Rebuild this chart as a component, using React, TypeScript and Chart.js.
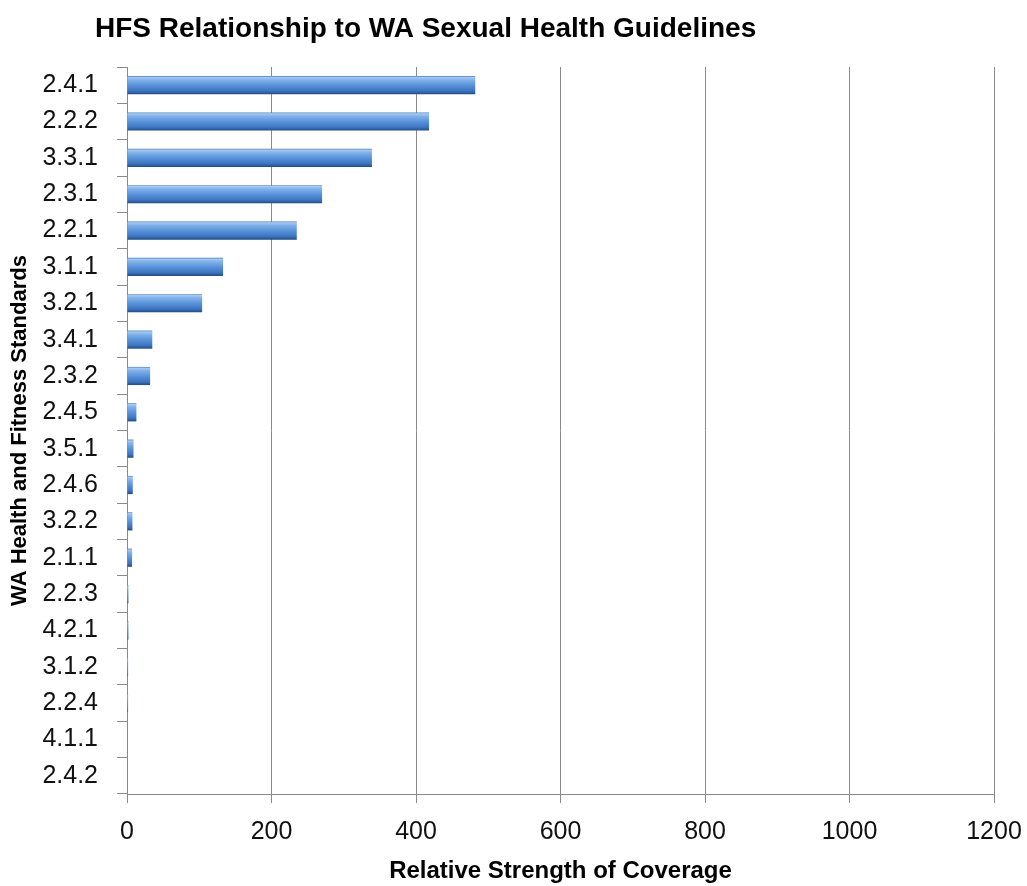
import React, { useEffect, useRef } from "react";
import { Chart, registerables } from "chart.js";

Chart.register(...registerables);

const TITLE = "HFS Relationship to WA Sexual Health Guidelines";
const X_TITLE = "Relative Strength of Coverage";
const Y_TITLE = "WA Health and Fitness Standards";

const categories = [
  "2.4.1", "2.2.2", "3.3.1", "2.3.1", "2.2.1", "3.1.1", "3.2.1", "3.4.1", "2.3.2", "2.4.5",
  "3.5.1", "2.4.6", "3.2.2", "2.1.1", "2.2.3", "4.2.1", "3.1.2", "2.2.4", "4.1.1", "2.4.2",
];
const coverage = [
  482, 418, 339, 270, 235, 133, 104, 35, 32, 13,
  9, 8, 7.5, 7, 2, 2, 1.5, 1.5, 0, 0,
];
const xMin = 0;
const xMax = 1200;
const xStep = 200;

const FONT = "'Liberation Sans', Arial, sans-serif";
const GRID = "#8a8a8a";

const titlePlugin = {
  id: "leftTitle",
  afterDraw(chart: any) {
    const ctx = chart.ctx;
    ctx.save();
    ctx.font = `bold 28px ${FONT}`;
    ctx.fillStyle = "#000";
    ctx.textAlign = "left";
    ctx.textBaseline = "alphabetic";
    ctx.fillText(TITLE, 95, 37);
    ctx.restore();
  },
};

function barFill(c: any) {
  const chart = c.chart;
  const ys = chart.scales && chart.scales.y;
  if (c.type !== "data" || !ys || !chart.chartArea) return "#4f88d0";
  const yc = ys.getPixelForValue(c.dataIndex);
  const half = (ys.height / categories.length) * 0.25;
  const g = chart.ctx.createLinearGradient(0, yc - half, 0, yc + half);
  g.addColorStop(0, "#4a7cbc");
  g.addColorStop(0.07, "#a6c9f2");
  g.addColorStop(0.22, "#7fb0ea");
  g.addColorStop(0.5, "#5a93db");
  g.addColorStop(0.82, "#3c74bf");
  g.addColorStop(0.93, "#2c5c9c");
  g.addColorStop(1, "#23497c");
  return g;
}

export default function App() {
  const ref = useRef<HTMLCanvasElement | null>(null);
  useEffect(() => {
    if (!ref.current) return;
    document.body.style.margin = "0";
    Chart.defaults.font.family = FONT;
    const chart = new Chart(ref.current, {
      type: "bar",
      data: {
        labels: categories,
        datasets: [
          {
            data: coverage,
            backgroundColor: barFill as any,
            borderWidth: 0,
            barPercentage: 0.5,
            categoryPercentage: 1,
          },
        ],
      },
      plugins: [titlePlugin],
      options: {
        indexAxis: "y",
        animation: false,
        responsive: true,
        maintainAspectRatio: false,
        layout: { padding: { top: 67, right: 33, left: 0, bottom: 0 } },
        plugins: {
          legend: { display: false },
          tooltip: { enabled: false },
          title: { display: false },
        },
        scales: {
          x: {
            min: xMin,
            max: xMax,
            ticks: {
              stepSize: xStep,
              color: "#111",
              font: { size: 25 },
              padding: 14,
              callback: (v: any) => String(v),
            },
            grid: { color: GRID, tickLength: 9, drawTicks: true },
            border: { color: GRID },
            title: {
              display: true,
              text: X_TITLE,
              color: "#000",
              font: { size: 24, weight: "bold" },
              padding: { top: 0, bottom: 0 },
            },
            afterFit: (s: any) => {
              s.height = 92;
              s.paddingRight = 0;
              s.paddingLeft = 0;
            },
          },
          y: {
            ticks: { color: "#111", font: { size: 25 }, padding: 19 },
            grid: { color: GRID, drawOnChartArea: false, tickLength: 10, offset: true },
            border: { color: GRID },
            title: {
              display: true,
              text: Y_TITLE,
              color: "#000",
              font: { size: 22, weight: "bold" },
              padding: { top: 7, bottom: 0 },
            },
            afterFit: (s: any) => {
              s.width = 127;
            },
          },
        },
      },
    });
    return () => chart.destroy();
  }, []);
  return (
    <div style={{ position: "relative", width: "1027px", height: "886px" }}>
      <canvas ref={ref} />
    </div>
  );
}
